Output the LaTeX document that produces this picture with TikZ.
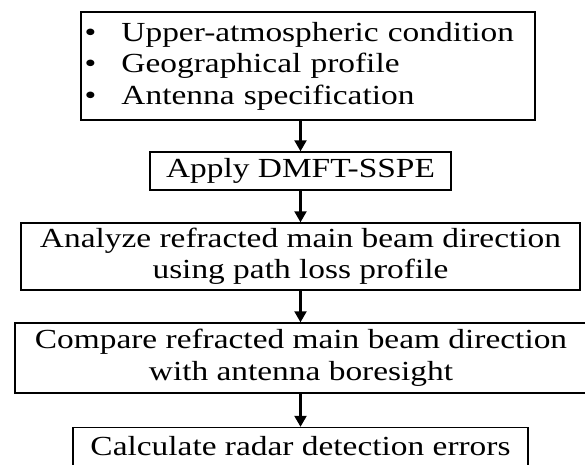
\documentclass[tikz,border=0pt]{standalone}
\usepackage{fontspec}
\setmainfont{Liberation Serif}[FakeStretch=1.21]
\usepackage{tikz}
\usetikzlibrary{arrows.meta,positioning}

\begin{document}
\begin{tikzpicture}[
  x=1pt,y=-1pt,
  font=\fontsize{27.6}{31.5}\selectfont,
  box/.style={draw,line width=1.4pt,inner sep=0pt,align=center},
  arr/.style={-{Triangle[length=11pt,width=12pt]},line width=2.2pt}
]
  \useasboundingbox (0,0) rectangle (585,464);
  \node[box,text width=447pt,inner xsep=3.5pt,minimum height=108pt,align=left] (inputs) at (308,66)
    {\makebox[37pt][l]{\textbullet}Upper-atmospheric condition\\
     \makebox[37pt][l]{\textbullet}Geographical profile\\
     \makebox[37pt][l]{\textbullet}Antenna specification};
  \node[box,minimum width=301pt,minimum height=38pt] (apply) at (300.5,171) {Apply DMFT-SSPE};
  \node[box,minimum width=559pt,minimum height=67pt] (analyze) at (300.5,256.5)
    {Analyze refracted main beam direction\\using path loss profile};
  \node[box,minimum width=572pt,minimum height=70pt] (compare) at (301,358)
    {Compare refracted main beam direction\\with antenna boresight};
  \node[box,minimum width=455pt,minimum height=38pt] (calc) at (300.5,446.5)
    {Calculate radar detection errors};
  \draw[arr] (inputs.south -| apply) -- (apply);
  \draw[arr] (apply) -- (analyze);
  \draw[arr] (analyze.south -| apply) -- (compare.north -| apply);
  \draw[arr] (compare.south -| apply) -- (calc.north -| apply);
\end{tikzpicture}
\end{document}
